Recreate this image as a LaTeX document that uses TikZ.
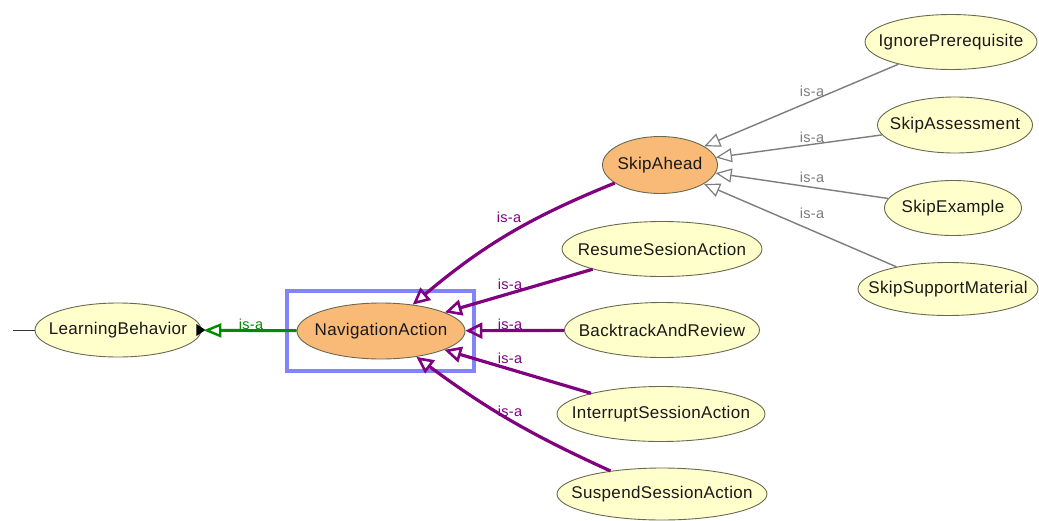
\documentclass[tikz,border=0pt]{standalone}
\usepackage{fontspec}
\setmainfont{Liberation Sans}[LetterSpace=2]
\usetikzlibrary{arrows.meta,shapes.geometric}
\definecolor{pale}{RGB}{255,255,204}
\definecolor{peach}{RGB}{248,186,118}
\definecolor{rim}{RGB}{105,105,80}
\definecolor{isapurple}{RGB}{128,0,128}
\definecolor{isagreen}{RGB}{0,140,0}
\definecolor{isagrey}{RGB}{125,125,125}
\definecolor{selblue}{RGB}{132,132,250}
% class names are set in a zero-width box so the ellipse keeps its given size
\newcommand\clsname[1]{\makebox[0pt]{#1}}
\begin{document}
\begin{tikzpicture}[x=1pt,y=-1pt,
  cls/.style={ellipse, draw=rim, line width=0.9pt, fill=pale, inner sep=0pt,
    font=\fontsize{17}{17}\selectfont, text=black!90},
  focus/.style={cls, fill=peach},
  sz/.style 2 args={minimum width=#1pt, minimum height=#2pt},
  subpurple/.style={line width=3.2pt, isapurple,
    -{Triangle[open, length=17pt, width=16pt, line width=2.6pt]}},
  subgrey/.style={line width=1.4pt, isagrey,
    -{Triangle[open, length=16pt, width=14pt, line width=1.2pt]}},
  subgreen/.style={line width=3pt, isagreen,
    -{Triangle[open, length=18pt, width=14pt, line width=2.4pt]}},
  lbl/.style={font=\fontsize{14.5}{14.5}\selectfont, inner sep=0pt},
  selbox/.style={draw=selblue, line width=3.2pt, inner sep=0pt}
]
\useasboundingbox[fill=white] (0,0) rectangle (1039,520);

% selection frame around the focused class
\node[selbox, sz={187}{80}] (sel) at (380.5,331) {};

% classes
\node[cls, sz={166}{54}] (LB) at (118,330) {\clsname{LearningBehavior}};
\node[focus, sz={168}{56}] (Nav) at (381,331) {\clsname{NavigationAction}};
\node[focus, sz={115}{57}] (Skip) at (660,165) {\clsname{SkipAhead}};
\node[cls, sz={172}{55}] (Ignore) at (951,42) {\clsname{IgnorePrerequisite}};
\node[cls, sz={155}{56}] (Assess) at (955,125) {\clsname{SkipAssessment}};
\node[cls, sz={137}{55}] (Example) at (953,208) {\clsname{SkipExample}};
\node[cls, sz={180}{53}] (Support) at (948,289) {\clsname{SkipSupportMaterial}};
\node[cls, sz={200}{55}] (Resume) at (662,249) {\clsname{ResumeSesionAction}};
\node[cls, sz={195}{55}] (Back) at (662,330) {\clsname{BacktrackAndReview}};
\node[cls, sz={208}{55}] (Interrupt) at (661,414) {\clsname{InterruptSessionAction}};
\node[cls, sz={210}{52}] (Suspend) at (662,494) {\clsname{SuspendSessionAction}};

% stub towards the parent class
\coordinate (stub) at (13,330);
\draw[line width=0.9pt, black!80] (stub) -- (LB);
% expand marker
\fill[black] ([xshift=-5pt,yshift=-6pt]LB.east) -- ([xshift=4pt]LB.east)
  -- ([xshift=-5pt,yshift=6pt]LB.east) -- cycle;

% is-a edges
\draw[subgreen, shorten >=2pt] (Nav) -- (LB);
\draw[subpurple] (Skip) to[bend right=9] (Nav);
\draw[subpurple] (Resume) -- (Nav);
\draw[subpurple] (Back) -- (Nav);
\draw[subpurple] (Interrupt) -- (Nav);
\draw[subpurple] (Suspend) to[bend left=6] (Nav);
\draw[subgrey] (Ignore) -- (Skip);
\draw[subgrey] (Assess) -- (Skip);
\draw[subgrey] (Example) -- (Skip);
\draw[subgrey] (Support) -- (Skip);

% edge labels
\node[lbl, isagreen] (lg) at (251,324) {is-a};
\node[lbl, isapurple] (l1) at (509,217) {is-a};
\node[lbl, isapurple] (l2) at (510,284) {is-a};
\node[lbl, isapurple] (l3) at (510,324) {is-a};
\node[lbl, isapurple] (l4) at (510,358) {is-a};
\node[lbl, isapurple] (l5) at (510,411) {is-a};
\node[lbl, isagrey] (g1) at (812,91) {is-a};
\node[lbl, isagrey] (g2) at (812,137) {is-a};
\node[lbl, isagrey] (g3) at (812,177) {is-a};
\node[lbl, isagrey] (g4) at (812,213) {is-a};
\end{tikzpicture}
\end{document}
